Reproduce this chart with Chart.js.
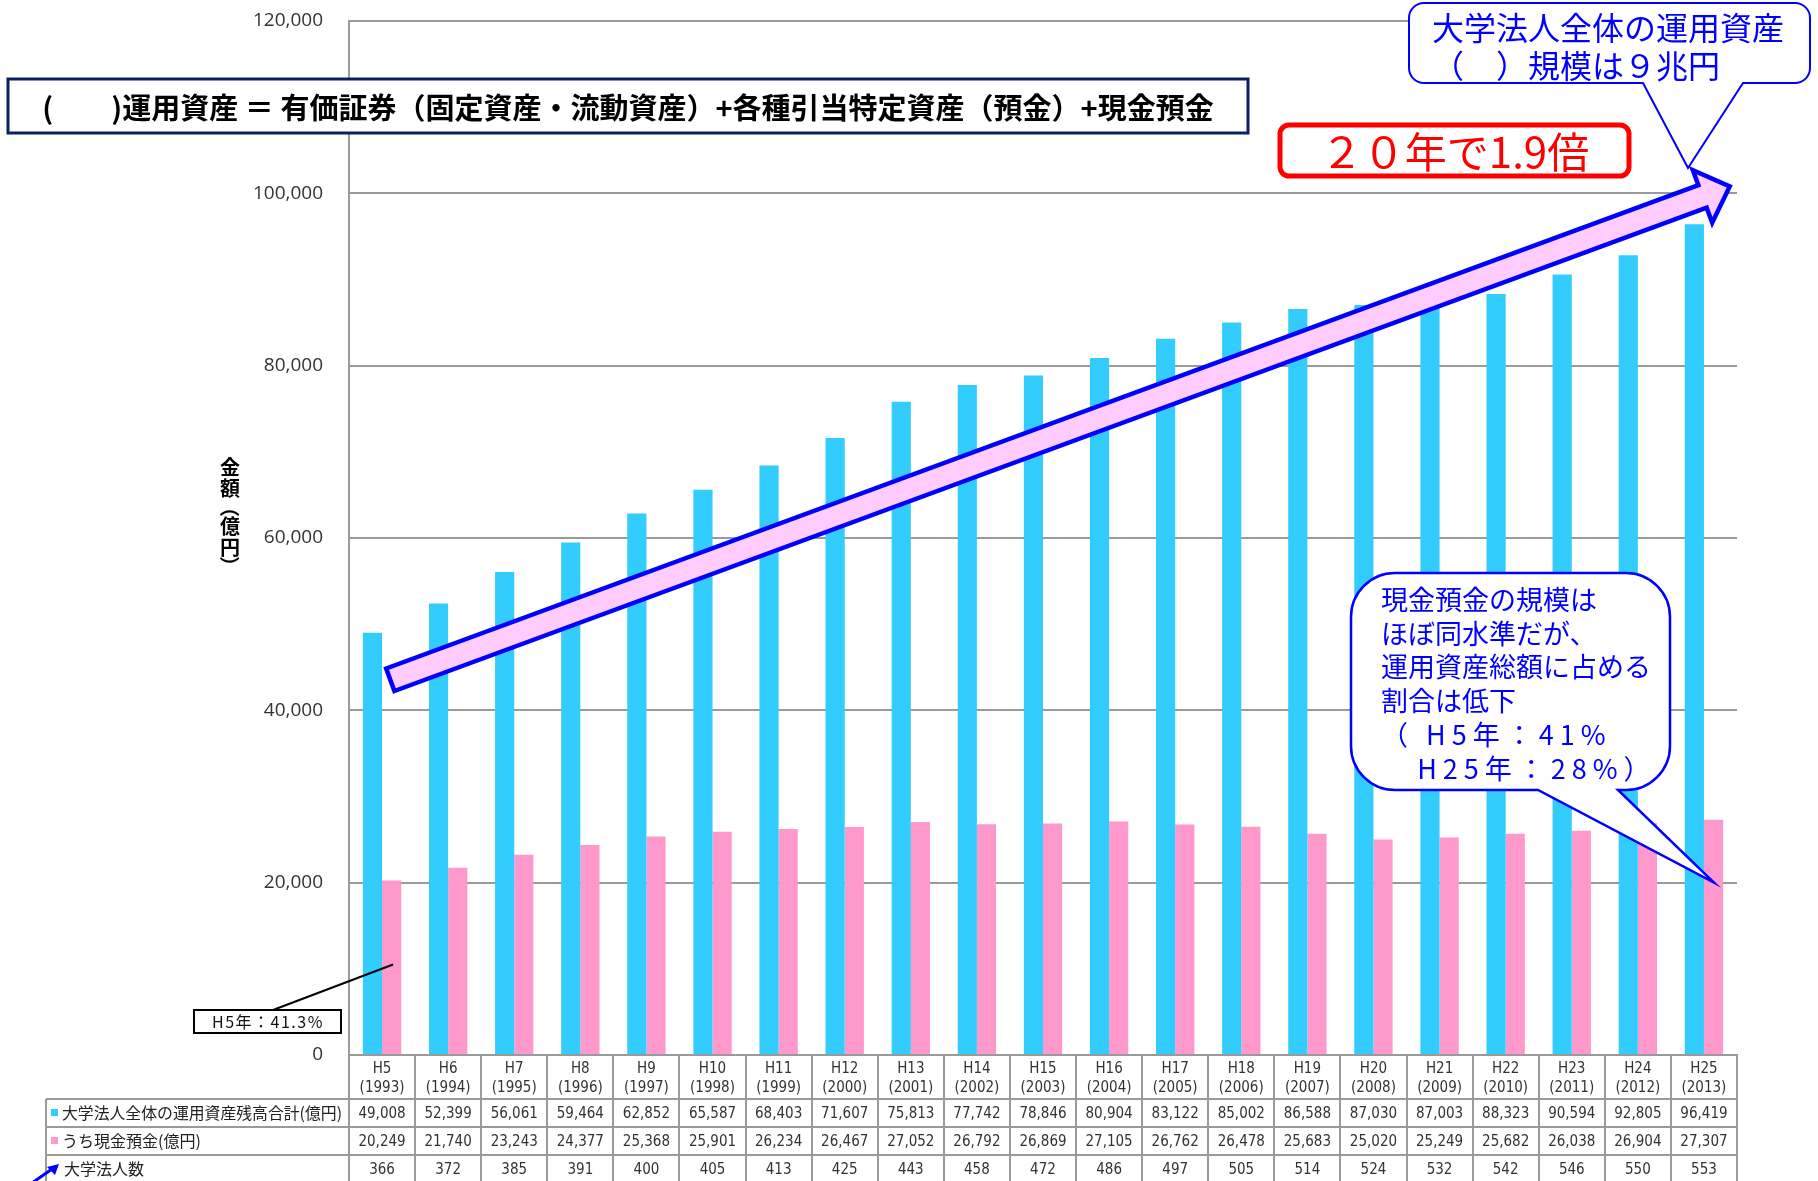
<!DOCTYPE html>
<html lang="ja">
<head>
<meta charset="utf-8">
<title>大学法人全体の運用資産</title>
<script src="https://cdn.jsdelivr.net/npm/chart.js@4.4.1/dist/chart.umd.min.js"></script>
<style>
    html, body { margin: 0; padding: 0; background: #fff; }
    #wrap { position: relative; width: 1818px; height: 1181px; }
</style>
</head>
<body>
<div id="wrap"><canvas id="assetChart"></canvas></div>
<script>
const ERA_LABELS = ['H5', 'H6', 'H7', 'H8', 'H9', 'H10', 'H11', 'H12', 'H13', 'H14', 'H15',
    'H16', 'H17', 'H18', 'H19', 'H20', 'H21', 'H22', 'H23', 'H24', 'H25'];
const YEAR_LABELS = ['(1993)', '(1994)', '(1995)', '(1996)', '(1997)', '(1998)', '(1999)', '(2000)',
    '(2001)', '(2002)', '(2003)', '(2004)', '(2005)', '(2006)', '(2007)', '(2008)', '(2009)',
    '(2010)', '(2011)', '(2012)', '(2013)'];

// 億円
const TOTAL_ASSETS = [49008, 52399, 56061, 59464, 62852, 65587, 68403, 71607, 75813, 77742, 78846,
    80904, 83122, 85002, 86588, 87030, 87003, 88323, 90594, 92805, 96419];
const CASH_DEPOSITS = [20249, 21740, 23243, 24377, 25368, 25901, 26234, 26467, 27052, 26792, 26869,
    27105, 26762, 26478, 25683, 25020, 25249, 25682, 26038, 26904, 27307];
const CORP_COUNTS = [366, 372, 385, 391, 400, 405, 413, 425, 443, 458, 472, 486, 497, 505, 514,
    524, 532, 542, 546, 550, 553];

const Y_MIN = 0;
const Y_MAX = 120000;
const Y_STEP = 20000;

const ROW_LABELS = ['大学法人全体の運用資産残高合計(億円)', 'うち現金預金(億円)', '大学法人数'];

const BLUE = '#33CCFF';
const PINK = '#FF99CC';
const GRID = '#9a9a9a';
const NARROW = '"Liberation Sans Narrow", "DejaVu Sans Condensed", "Noto Sans CJK JP", sans-serif';
const JP = '"Noto Sans CJK JP", "Noto Sans", sans-serif';

const fmt = v => v.toLocaleString('en-US');

// text squeezed horizontally when wider than maxW
function fitText(ctx, text, xx, yy, maxW, align) {
    const w = ctx.measureText(text).width;
    const k = Math.min(1, maxW / w);
    ctx.save();
    ctx.translate(xx, yy);
    ctx.scale(k, 1);
    ctx.textAlign = align || 'center';
    ctx.fillText(text, 0, 0);
    ctx.restore();
}

// table under the plot: rows of values, one column per category
const tablePlugin = {
    id: 'dataTable',
    afterDraw(chart) {
        const { ctx, chartArea: ca, scales: { x } } = chart;
        const n = ERA_LABELS.length;
        const colW = (ca.right - ca.left) / n;
        const tableLeft = 46;
        const rowTops = [ca.bottom + 44, ca.bottom + 72, ca.bottom + 100];
        const rowH = 28;
        const bottom = chart.height;

        ctx.save();
        ctx.strokeStyle = GRID;
        ctx.lineWidth = 2;
        ctx.beginPath();
        for (let i = 0; i <= n; i++) {
            const xx = Math.round(ca.left + i * colW);
            ctx.moveTo(xx, ca.bottom);
            ctx.lineTo(xx, bottom);
        }
        ctx.moveTo(tableLeft, rowTops[0]);
        ctx.lineTo(tableLeft, bottom);
        rowTops.forEach(t => {
            ctx.moveTo(tableLeft, t);
            ctx.lineTo(ca.right, t);
        });
        ctx.stroke();

        // row labels
        ctx.textBaseline = 'middle';
        ctx.fillStyle = '#222';
        ctx.font = '16px ' + JP;
        const markers = [BLUE, PINK, null];
        ROW_LABELS.forEach((label, r) => {
            const cy = rowTops[r] + rowH / 2;
            if (markers[r]) {
                ctx.fillStyle = markers[r];
                ctx.fillRect(51, cy - 4, 7, 7);
            }
            ctx.fillStyle = '#222';
            fitText(ctx, label, r < 2 ? 62 : 64, cy, 280, 'left');
        });

        // values
        const rows = [TOTAL_ASSETS.map(fmt), CASH_DEPOSITS.map(fmt), CORP_COUNTS.map(String)];
        ctx.textAlign = 'center';
        ctx.font = '15px ' + NARROW;
        ctx.fillStyle = '#333';
        rows.forEach((vals, r) => {
            const cy = rowTops[r] + rowH / 2 + 1;
            vals.forEach((v, i) => ctx.fillText(v, x.getPixelForValue(i), cy));
        });

        // small blue arrow pointing at the last row label
        ctx.strokeStyle = '#0000FF';
        ctx.fillStyle = '#0000FF';
        ctx.lineWidth = 3;
        ctx.beginPath();
        ctx.moveTo(32, bottom + 2);
        ctx.lineTo(52, rowTops[2] + 14);
        ctx.stroke();
        ctx.beginPath();
        ctx.moveTo(59, rowTops[2] + 9);
        ctx.lineTo(47, rowTops[2] + 12);
        ctx.lineTo(55, rowTops[2] + 20);
        ctx.closePath();
        ctx.fill();
        ctx.restore();
    }
};

function calloutPath(ctx, l, t, r, b, rad, bx1, bx2, tip) {
    ctx.beginPath();
    ctx.moveTo(l + rad, t);
    ctx.lineTo(r - rad, t);
    ctx.arcTo(r, t, r, t + rad, rad);
    ctx.lineTo(r, b - rad);
    ctx.arcTo(r, b, r - rad, b, rad);
    ctx.lineTo(bx2, b);
    ctx.lineTo(tip[0], tip[1]);
    ctx.lineTo(bx1, b);
    ctx.lineTo(l + rad, b);
    ctx.arcTo(l, b, l, b - rad, rad);
    ctx.lineTo(l, t + rad);
    ctx.arcTo(l, t, l + rad, t, rad);
    ctx.closePath();
}

function roundBox(ctx, l, t, r, b, rad) {
    ctx.beginPath();
    ctx.moveTo(l + rad, t);
    ctx.arcTo(r, t, r, b, rad);
    ctx.arcTo(r, b, l, b, rad);
    ctx.arcTo(l, b, l, t, rad);
    ctx.arcTo(l, t, r, t, rad);
    ctx.closePath();
}

function bigArrow(ctx, tx, ty, px, py, sw, hw, hl) {
    const len = Math.hypot(px - tx, py - ty);
    const ux = (px - tx) / len, uy = (py - ty) / len;
    const nx = -uy, ny = ux;
    const bx = px - ux * hl, by = py - uy * hl;
    const pts = [
        [tx + nx * sw, ty + ny * sw],
        [bx + nx * sw, by + ny * sw],
        [bx + nx * hw, by + ny * hw],
        [px, py],
        [bx - nx * hw, by - ny * hw],
        [bx - nx * sw, by - ny * sw],
        [tx - nx * sw, ty - ny * sw]
    ];
    ctx.beginPath();
    pts.forEach((p, i) => i ? ctx.lineTo(p[0], p[1]) : ctx.moveTo(p[0], p[1]));
    ctx.closePath();
}

const annotationPlugin = {
    id: 'notes',
    afterDraw(chart) {
        const { ctx, scales: { x, y } } = chart;
        ctx.save();
        ctx.textBaseline = 'middle';

        // y axis title, upright vertical text; brackets turned a quarter
        ctx.fillStyle = '#000';
        ctx.font = 'bold 20px ' + JP;
        ctx.textAlign = 'center';
        let ty = 467;
        ['金', '額', '（', '億', '円', '）'].forEach(ch => {
            const paren = ch === '（' || ch === '）';
            if (paren) {
                ty -= 2;
                ctx.save();
                ctx.translate(230, ty);
                ctx.rotate(Math.PI / 2);
                ctx.fillText(ch, 0, 0);
                ctx.restore();
                ty += 19;
            } else {
                ctx.fillText(ch, 230, ty);
                ty += 21;
            }
        });

        // growth arrow
        bigArrow(ctx,
            x.getPixelForValue(0.125), y.getPixelForValue(43550),
            x.getPixelForValue(20.39), y.getPixelForValue(100800),
            12, 28, 29);
        ctx.fillStyle = '#FFCCFF';
        ctx.fill();
        ctx.strokeStyle = '#0000FF';
        ctx.lineWidth = 4.5;
        ctx.lineJoin = 'miter';
        ctx.stroke();

        // formula box
        ctx.fillStyle = '#fff';
        ctx.fillRect(8, 79, 1240, 54);
        ctx.strokeStyle = '#0A2060';
        ctx.lineWidth = 3;
        ctx.strokeRect(8, 79, 1240, 54);
        ctx.fillStyle = '#000';
        ctx.font = 'bold 29px ' + JP;
        fitText(ctx, '(　　)運用資産 ＝ 有価証券（固定資産・流動資産）+各種引当特定資産（預金）+現金預金', 628, 108, 1190);

        // 20年で1.9倍
        roundBox(ctx, 1280, 125, 1629, 176, 9);
        ctx.fillStyle = '#fff';
        ctx.fill();
        ctx.strokeStyle = '#FF0000';
        ctx.lineWidth = 5;
        ctx.stroke();
        ctx.fillStyle = '#FF0000';
        ctx.font = '42px ' + JP;
        ctx.textAlign = 'center';
        ctx.fillText('２０年で1.9倍', 1455, 152);

        // top right callout
        calloutPath(ctx, 1409, 3, 1810, 83, 15, 1643, 1743, [1688, 168]);
        ctx.fillStyle = '#fff';
        ctx.fill();
        ctx.strokeStyle = '#0000FF';
        ctx.lineWidth = 2;
        ctx.stroke();
        ctx.fillStyle = '#0000FF';
        ctx.font = '32px ' + JP;
        ctx.textAlign = 'left';
        ctx.fillText('大学法人全体の運用資産', 1432, 28);
        ctx.fillText('（　）規模は９兆円', 1432, 66);

        // cash share callout
        const last = ERA_LABELS.length - 1;
        const tip = [x.getPixelForValue(last) + 10, y.getPixelForValue(20000)];
        calloutPath(ctx, 1351, 573, 1670, 790, 44, 1538, 1618, tip);
        ctx.fillStyle = '#fff';
        ctx.fill();
        ctx.strokeStyle = '#0000FF';
        ctx.lineWidth = 2.5;
        ctx.stroke();
        ctx.fillStyle = '#0000FF';
        ctx.font = '27px ' + JP;
        ctx.textAlign = 'left';
        ['現金預金の規模は', 'ほぼ同水準だが、', '運用資産総額に占める', '割合は低下']
            .forEach((line, i) => ctx.fillText(line, 1381, 600 + i * 33.5));
        ctx.letterSpacing = '6px';
        ctx.fillText('（ H5年：41%', 1381, 735);
        ctx.fillText('   H25年：28%）', 1381, 769);
        ctx.letterSpacing = '0px';

        // H5 share label
        ctx.strokeStyle = '#000';
        ctx.lineWidth = 2;
        ctx.beginPath();
        ctx.moveTo(273, 1010);
        ctx.lineTo(x.getPixelForValue(0) + 11, y.getPixelForValue(10500));
        ctx.stroke();
        ctx.fillStyle = '#fff';
        ctx.fillRect(194, 1010, 147, 23);
        ctx.strokeRect(194, 1010, 147, 23);
        ctx.fillStyle = '#111';
        ctx.font = '16px ' + JP;
        ctx.textAlign = 'center';
        ctx.letterSpacing = '1.5px';
        ctx.fillText('H5年：41.3%', 268, 1022);
        ctx.letterSpacing = '0px';

        ctx.restore();
    }
};

new Chart(document.getElementById('assetChart'), {
    type: 'bar',
    data: {
        labels: ERA_LABELS.map((era, i) => [era, YEAR_LABELS[i]]),
        datasets: [
            {
                label: '大学法人全体の運用資産残高合計(億円)',
                data: TOTAL_ASSETS,
                backgroundColor: BLUE
            },
            {
                label: 'うち現金預金(億円)',
                data: CASH_DEPOSITS,
                backgroundColor: PINK
            }
        ]
    },
    options: {
        responsive: true,
        maintainAspectRatio: false,
        animation: false,
        events: [],
        categoryPercentage: 0.58,
        barPercentage: 1.0,
        layout: { padding: { left: 0, right: 81, top: 21, bottom: 0 } },
        plugins: {
            legend: { display: false },
            tooltip: { enabled: false }
        },
        scales: {
            x: {
                grid: { display: false, drawTicks: false },
                border: { display: true, color: GRID, width: 2 },
                ticks: {
                    color: '#333',
                    font: { family: NARROW, size: 15, lineHeight: 1.3 },
                    padding: 4,
                    maxRotation: 0,
                    autoSkip: false
                },
                afterFit: s => { s.height = 126; }
            },
            y: {
                min: Y_MIN,
                max: Y_MAX,
                ticks: {
                    stepSize: Y_STEP,
                    color: '#333',
                    font: { family: '"Open Sans", sans-serif', size: 19 },
                    padding: 26,
                    callback: v => fmt(v)
                },
                grid: { color: GRID, lineWidth: 2, drawTicks: false },
                border: { color: GRID, width: 2 },
                afterFit: s => {
                    s.width = 349;
                    s.paddingTop = 12;
                    s.paddingBottom = 12;
                }
            }
        }
    },
    plugins: [tablePlugin, annotationPlugin]
});
</script>
</body>
</html>
